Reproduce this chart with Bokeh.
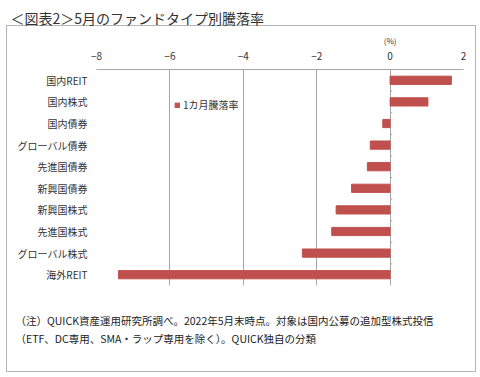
from bokeh.plotting import figure
from bokeh.models import (FactorRange, Range1d, Legend, LegendItem, FixedTicker,
                          ColumnDataSource, LinearAxis, Title)
from bokeh.embed import file_html
from bokeh.resources import INLINE

categories = ["国内REIT", "国内株式", "国内債券", "グローバル債券", "先進国債券",
              "新興国債券", "新興国株式", "先進国株式", "グローバル株式", "海外REIT"]
returns = [1.67, 1.03, -0.20, -0.54, -0.62, -1.05, -1.47, -1.59, -2.39, -7.40]
x_ticks = [-8, -6, -4, -2, 0, 2]
unit_label = "(%)"
series_name = "1カ月騰落率"
title_text = "＜図表2＞5月のファンドタイプ別騰落率"
note_lines = ["（注）QUICK資産運用研究所調べ。2022年5月末時点。対象は国内公募の追加型株式投信",
              "（ETF、DC専用、SMA・ラップ専用を除く）。QUICK独自の分類"]

FONT = "Noto Sans CJK JP"
BAR = "#C0504D"
GRID = "#A6A6A6"
BOX = "#B4B4B4"

p = figure(width=480, height=377, output_backend="svg", toolbar_location=None,
           y_range=FactorRange(factors=categories[::-1]), x_range=Range1d(-8, 2),
           x_axis_location="above", tools="")
p.min_border_left = 96
p.min_border_right = 17
p.min_border_top = 69
p.min_border_bottom = 92
p.outline_line_color = None
p.background_fill_color = "white"
p.border_fill_alpha = 0
p.styles = {
    "background-color": "white",
    "background-image": ", ".join([f"linear-gradient({BOX}, {BOX})"] * 4),
    "background-size": "470px 1px, 470px 1px, 1px 347px, 1px 347px",
    "background-position": "6px 25px, 6px 371px, 6px 25px, 475px 25px",
    "background-repeat": "no-repeat",
}

src = ColumnDataSource(dict(cat=categories, val=returns))
r = p.hbar(y="cat", left=0, right="val", height=0.38, source=src,
           fill_color=BAR, line_color=BAR)

# small tick marks on the zero line between categories
n = len(categories)
p.segment(x0=0, x1=0.06, y0=list(range(1, n)), y1=list(range(1, n)), line_color=GRID, line_width=1)

xa = p.xaxis[0]
xa.ticker = FixedTicker(ticks=x_ticks)
xa.axis_line_color = GRID
xa.major_tick_line_color = None
xa.minor_tick_line_color = None
xa.major_tick_out = 0
xa.major_tick_in = 0
xa.major_label_text_font = FONT
xa.major_label_text_font_size = "10px"
xa.major_label_text_color = "#333333"
xa.major_label_standoff = 10

# unit label "(%)" above the zero tick
ua = LinearAxis(ticker=FixedTicker(ticks=[0]), major_label_overrides={0: unit_label})
ua.axis_line_color = None
ua.major_tick_line_color = None
ua.minor_tick_line_color = None
ua.major_tick_out = 0
ua.major_tick_in = 0
ua.major_label_text_font = FONT
ua.major_label_text_font_size = "8px"
ua.major_label_text_color = "#333333"
ua.major_label_standoff = 3
p.add_layout(ua, "above")

ya = p.yaxis[0]
ya.axis_line_color = None
ya.major_tick_line_color = None
ya.minor_tick_line_color = None
ya.major_tick_out = 0
ya.major_tick_in = 0
ya.major_label_text_font = FONT
ya.major_label_text_font_size = "10px"
ya.major_label_text_color = "#333333"
ya.major_label_standoff = 9

p.xgrid.grid_line_color = GRID
p.xgrid.ticker = FixedTicker(ticks=x_ticks)
p.ygrid.grid_line_color = None

legend = Legend(items=[LegendItem(label=series_name, renderers=[r])], location=(78, 173),
                glyph_width=6, glyph_height=6, label_height=12, label_standoff=3,
                padding=0, margin=0, border_line_color=None, background_fill_alpha=0,
                label_text_font=FONT, label_text_font_size="10px", label_text_color="#333333")
p.add_layout(legend)

p.title.text = title_text
p.title.align = "left"
p.title.offset = -86
p.title.text_font = FONT
p.title.text_font_size = "14px"
p.title.text_font_style = "normal"
p.title.text_color = "#333333"
p.title.standoff = 7

note = Title(text="\n".join(note_lines), align="left", offset=-81, text_font=FONT,
             text_font_size="10.5px", text_font_style="normal", text_color="#222222",
             text_line_height=1.2, standoff=51)
p.add_layout(note, "below")

open("out.html", "w").write(file_html(p, INLINE))
